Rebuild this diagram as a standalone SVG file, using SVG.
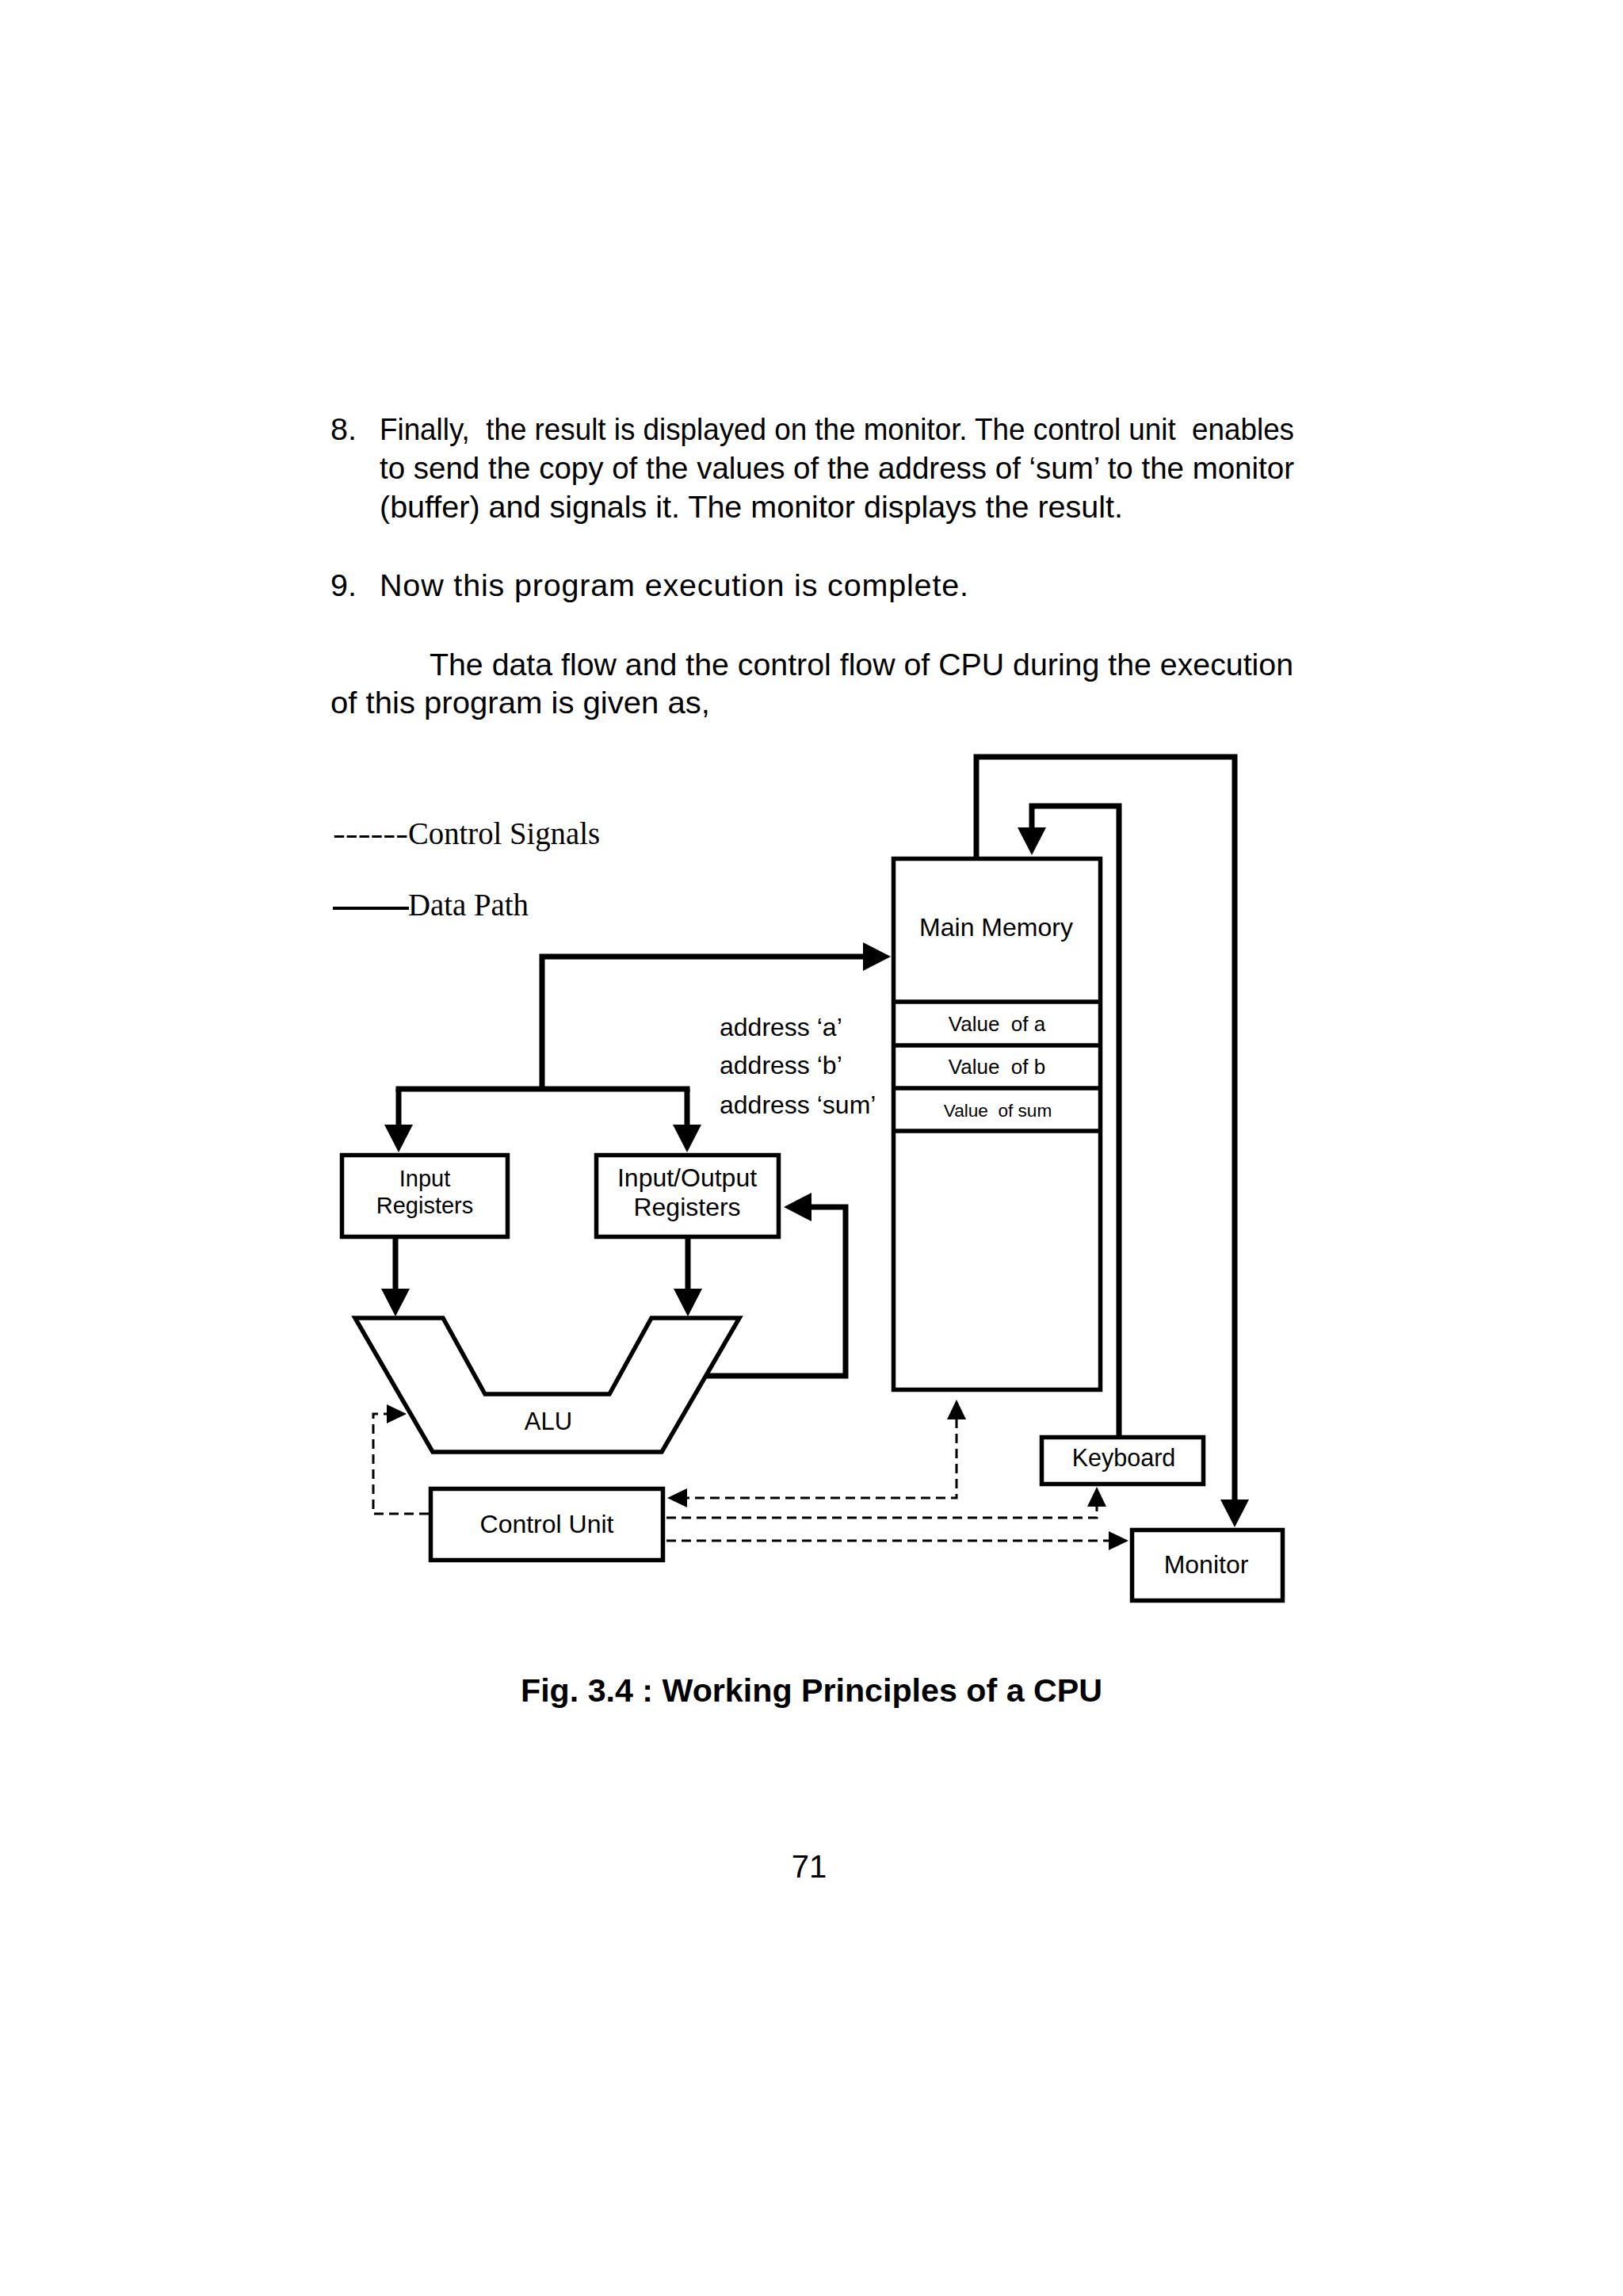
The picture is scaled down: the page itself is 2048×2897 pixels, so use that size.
<svg xmlns="http://www.w3.org/2000/svg" width="2048" height="2897" viewBox="0 0 2048 2897">
<defs>
<style>
.body{font-family:"Liberation Sans",Arial,sans-serif;font-size:39.5px;fill:#000;white-space:pre}
.serif{font-family:"Liberation Serif","Times New Roman",serif;font-size:40px;fill:#000}
.lbl{font-family:"Liberation Sans",Arial,sans-serif;fill:#000;text-anchor:middle;white-space:pre}
.box{fill:#fff;stroke:#000;stroke-width:5.5;stroke-linejoin:miter}
.thick{fill:none;stroke:#000;stroke-width:7;stroke-linejoin:miter}
.dash{fill:none;stroke:#000;stroke-width:3;stroke-dasharray:12 7}
</style>
<marker id="ah" markerUnits="userSpaceOnUse" viewBox="0 0 35 36" markerWidth="35" markerHeight="36" refX="1" refY="18" orient="auto"><path d="M0,0 L35,18 L0,36 z" fill="#000"/></marker>
<marker id="ahs" markerUnits="userSpaceOnUse" viewBox="0 0 25 24" markerWidth="25" markerHeight="24" refX="1" refY="12" orient="auto-start-reverse"><path d="M0,0 L25,12 L0,24 z" fill="#000"/></marker>
</defs>
<rect x="0" y="0" width="2048" height="2897" fill="#fff"/>

<g id="paragraph">
<text class="body" x="417" y="555">8.</text>
<text class="body" x="479" y="555" textLength="1154" lengthAdjust="spacingAndGlyphs">Finally,  the result is displayed on the monitor. The control unit  enables</text>
<text class="body" x="479" y="604" textLength="1154" lengthAdjust="spacingAndGlyphs">to send the copy of the values of the address of ‘sum’ to the monitor</text>
<text class="body" x="479" y="653" textLength="938" lengthAdjust="spacingAndGlyphs">(buffer) and signals it. The monitor displays the result.</text>
<text class="body" x="417" y="752">9.</text>
<text class="body" x="479" y="752" textLength="743" lengthAdjust="spacing">Now this program execution is complete.</text>
<text class="body" x="542" y="852" textLength="1090" lengthAdjust="spacingAndGlyphs">The data flow and the control flow of CPU during the execution</text>
<text class="body" x="417" y="900" textLength="479" lengthAdjust="spacingAndGlyphs">of this program is given as,</text>
</g>

<g id="legend">
<text class="serif" x="420" y="1065"><tspan textLength="95" lengthAdjust="spacingAndGlyphs">------</tspan><tspan x="515" textLength="242" lengthAdjust="spacingAndGlyphs">Control Signals</tspan></text>
<line x1="420" y1="1146" x2="516" y2="1146" stroke="#000" stroke-width="4"/>
<text class="serif" x="515" y="1155" textLength="152" lengthAdjust="spacingAndGlyphs">Data Path</text>
</g>

<g id="connectors">
<path class="thick" d="M684 1374 V1207 H1090" marker-end="url(#ah)"/>
<path class="thick" d="M499.5 1374 H870.5"/>
<path class="thick" d="M503 1374 V1420" marker-end="url(#ah)"/>
<path class="thick" d="M867 1374 V1420" marker-end="url(#ah)"/>
<path class="thick" d="M499 1563 V1627" marker-end="url(#ah)"/>
<path class="thick" d="M868 1563 V1627" marker-end="url(#ah)"/>
<path class="thick" d="M891 1736 H1067 V1523 H1023" marker-end="url(#ah)"/>
<path class="thick" d="M1232 1081 V955 H1558 V1893" marker-end="url(#ah)"/>
<path class="thick" d="M1412 1811 V1017 H1302 V1045" marker-end="url(#ah)"/>
<path class="dash" d="M541 1910 H471 V1784 H489" marker-end="url(#ahs)"/>
<path class="dash" d="M1207 1790 V1890 H866" marker-start="url(#ahs)" marker-end="url(#ahs)"/>
<path class="dash" d="M841 1915 H1384 V1900" marker-end="url(#ahs)"/>
<path class="dash" d="M841 1944 H1400" marker-end="url(#ahs)"/>
</g>

<g id="main-memory">
<rect class="box" x="1127.5" y="1083.5" width="261" height="670"/>
<line x1="1125" y1="1264" x2="1391" y2="1264" stroke="#000" stroke-width="5.5"/>
<line x1="1125" y1="1319" x2="1391" y2="1319" stroke="#000" stroke-width="5.5"/>
<line x1="1125" y1="1373" x2="1391" y2="1373" stroke="#000" stroke-width="5.5"/>
<line x1="1125" y1="1427" x2="1391" y2="1427" stroke="#000" stroke-width="5.5"/>
<text class="lbl" x="1257" y="1181" font-size="32">Main Memory</text>
<text class="lbl" x="1258" y="1301" font-size="26">Value  of a</text>
<text class="lbl" x="1258" y="1355" font-size="26">Value  of b</text>
<text class="lbl" x="1259" y="1409" font-size="22.6">Value  of sum</text>
</g>

<g id="addresses">
<text class="body" x="908" y="1307" style="font-size:32px">address ‘a’</text>
<text class="body" x="908" y="1355" style="font-size:32px">address ‘b’</text>
<text class="body" x="908" y="1405" style="font-size:32px">address ‘sum’</text>
</g>

<g id="input-registers">
<rect class="box" x="431.5" y="1457.5" width="209" height="103"/>
<text class="lbl" x="536" y="1497" font-size="29">Input</text>
<text class="lbl" x="536" y="1531" font-size="29">Registers</text>
</g>

<g id="io-registers">
<rect class="box" x="752.5" y="1457.5" width="230" height="103"/>
<text class="lbl" x="867" y="1497" font-size="32">Input/Output</text>
<text class="lbl" x="867" y="1534" font-size="32">Registers</text>
</g>

<g id="alu">
<polygon class="box" points="448,1663 559,1663 612,1759 769,1759 822,1663 933,1663 835,1832 546,1832"/>
<text class="lbl" x="692" y="1804" font-size="31">ALU</text>
</g>

<g id="control-unit">
<rect class="box" x="543.5" y="1878.5" width="293" height="90"/>
<text class="lbl" x="690" y="1934" font-size="32">Control Unit</text>
</g>

<g id="keyboard">
<rect class="box" x="1314.5" y="1813.5" width="204" height="59"/>
<text class="lbl" x="1418" y="1850" font-size="30.5">Keyboard</text>
</g>

<g id="monitor">
<rect class="box" x="1428.5" y="1930.5" width="190" height="89"/>
<text class="lbl" x="1522" y="1985" font-size="32">Monitor</text>
</g>

<g id="caption">
<text x="657" y="2147" font-family="Liberation Sans, Arial, sans-serif" font-weight="bold" font-size="41" textLength="734" lengthAdjust="spacingAndGlyphs">Fig. 3.4 : Working Principles of a CPU</text>
<text x="1021" y="2369" font-family="Liberation Sans, Arial, sans-serif" font-size="40" text-anchor="middle">71</text>
</g>
</svg>
